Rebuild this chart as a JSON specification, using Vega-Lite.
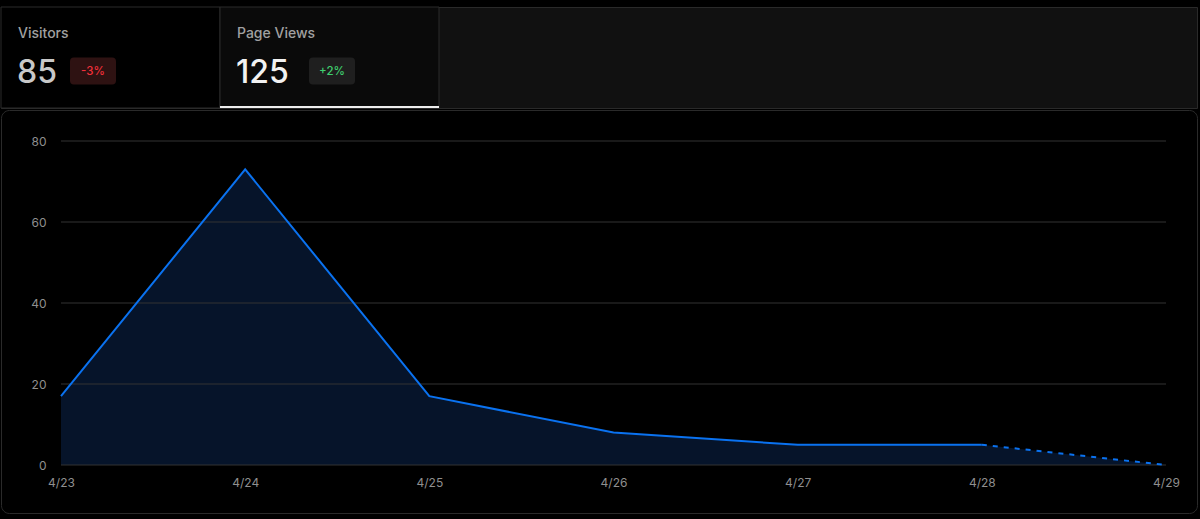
{
  "$schema": "https://vega.github.io/schema/vega-lite/v6.json",
  "background": "#000000",
  "padding": {"top": 6, "left": 0, "right": 4, "bottom": 6},
  "spacing": 0,
  "bounds": "full",
  "config": {"font": "Inter", "view": {"stroke": null}},
  "datasets": {
    "metrics": [
      {"metric": "Visitors", "value": 85, "change": "-3%"},
      {"metric": "Page Views", "value": 125, "change": "+2%"}
    ],
    "views": [
      {"day": "4/23", "views": 17},
      {"day": "4/24", "views": 73},
      {"day": "4/25", "views": 17},
      {"day": "4/26", "views": 8},
      {"day": "4/27", "views": 5},
      {"day": "4/28", "views": 5},
      {"day": "4/29", "views": 0}
    ],
    "grid": [{"v": 0}, {"v": 20}, {"v": 40}, {"v": 60}, {"v": 80}]
  },
  "vconcat": [
    {
      "width": 1196,
      "height": 101,
      "data": {"name": "metrics"},
      "view": {"fill": "#111111", "stroke": "#2a2a2a"},
      "layer": [
        {
          "mark": {"type": "rect", "y": 0, "y2": 101, "stroke": "#2a2a2a", "strokeWidth": 1},
          "encoding": {
            "x": {"field": "metric", "type": "nominal", "sort": null, "scale": {"type": "band", "domain": ["Visitors", "Page Views"], "range": [0, 438], "paddingInner": 0, "paddingOuter": 0}, "axis": null},
            "fill": {"condition": {"test": "datum.metric === 'Page Views'", "value": "#0a0a0a"}, "value": "#000000"}
          }
        },
        {
          "transform": [{"filter": "datum.metric === 'Page Views'"}],
          "mark": {"type": "rect", "y": 99, "y2": 101, "fill": "#ededed"},
          "encoding": {
            "x": {"field": "metric", "type": "nominal"}
          }
        },
        {
          "mark": {"type": "text", "align": "left", "baseline": "middle", "y": 27, "dx": 17, "fontSize": 14, "fontWeight": 500, "color": "#a1a1a1"},
          "encoding": {
            "x": {"field": "metric", "type": "nominal", "bandPosition": 0},
            "text": {"field": "metric"}
          }
        },
        {
          "mark": {"type": "text", "align": "left", "baseline": "alphabetic", "y": 76, "dx": 16, "fontSize": 32, "fontWeight": 500},
          "encoding": {
            "x": {"field": "metric", "type": "nominal", "bandPosition": 0},
            "text": {"field": "value"},
            "color": {"condition": {"test": "datum.metric === 'Page Views'", "value": "#f2f2f2"}, "value": "#c8c8c8"}
          }
        },
        {
          "mark": {"type": "point", "filled": true, "opacity": 1, "size": 2116, "y": 64,
            "shape": "M -0.83,-0.585 L 0.83,-0.585 Q 1,-0.585 1,-0.415 L 1,0.415 Q 1,0.585 0.83,0.585 L -0.83,0.585 Q -1,0.585 -1,0.415 L -1,-0.415 Q -1,-0.585 -0.83,-0.585 Z",
            "xOffset": {"expr": "datum.metric === 'Visitors' ? 92 : 112"}},
          "encoding": {
            "x": {"field": "metric", "type": "nominal", "bandPosition": 0},
            "color": {"condition": {"test": "datum.metric === 'Page Views'", "value": "#1f1f1f"}, "value": "#2e1212"}
          }
        },
        {
          "mark": {"type": "text", "align": "center", "baseline": "middle", "y": 64.5, "fontSize": 11.5, "fontWeight": 500,
            "xOffset": {"expr": "datum.metric === 'Visitors' ? 92 : 112"}},
          "encoding": {
            "x": {"field": "metric", "type": "nominal", "bandPosition": 0},
            "text": {"field": "change"},
            "color": {"condition": {"test": "datum.metric === 'Page Views'", "value": "#3fcf6f"}, "value": "#f2303a"}
          }
        }
      ]
    },
    {
      "width": 1196,
      "height": 403,
      "view": {"fill": "#000000", "stroke": "#2a2a2a", "cornerRadius": 8},
      "layer": [
        {
          "data": {"name": "views"},
          "mark": {"type": "area", "color": "#06142a", "opacity": 1},
          "encoding": {
            "x": {
              "field": "day", "type": "ordinal", "sort": null,
              "scale": {"type": "point", "padding": 0, "domain": ["4/23", "4/24", "4/25", "4/26", "4/27", "4/28", "4/29"], "range": [60, 1165]},
              "axis": {"labelAngle": 0, "domain": false, "ticks": false, "tickSize": 0, "offset": -46, "labelPadding": 10, "labelColor": "#8f8f8f", "labelFontSize": 12, "title": null, "grid": false}
            },
            "y": {
              "field": "views", "type": "quantitative",
              "scale": {"domain": [0, 80], "nice": false, "range": [355, 31]},
              "axis": {"values": [0, 20, 40, 60, 80], "domain": false, "ticks": false, "tickSize": 0, "offset": -60, "labelPadding": 15, "minExtent": 0, "grid": false, "labelColor": "#8f8f8f", "labelFontSize": 12, "title": null}
            }
          }
        },
        {
          "data": {"name": "grid"},
          "mark": {"type": "rule", "color": "#333333", "strokeWidth": 1},
          "encoding": {
            "x": {"datum": "4/23", "type": "ordinal"},
            "x2": {"datum": "4/29"},
            "y": {"field": "v", "type": "quantitative"}
          }
        },
        {
          "data": {"name": "views"},
          "transform": [{"filter": "datum.day !== '4/29'"}],
          "mark": {"type": "line", "color": "#0a72f0", "strokeWidth": 2},
          "encoding": {
            "x": {"field": "day", "type": "ordinal"},
            "y": {"field": "views", "type": "quantitative"}
          }
        },
        {
          "data": {"name": "views"},
          "transform": [{"filter": "datum.day === '4/28' || datum.day === '4/29'"}],
          "mark": {"type": "line", "color": "#0a72f0", "strokeWidth": 2, "strokeDash": [5, 6]},
          "encoding": {
            "x": {"field": "day", "type": "ordinal"},
            "y": {"field": "views", "type": "quantitative"}
          }
        }
      ]
    }
  ]
}
